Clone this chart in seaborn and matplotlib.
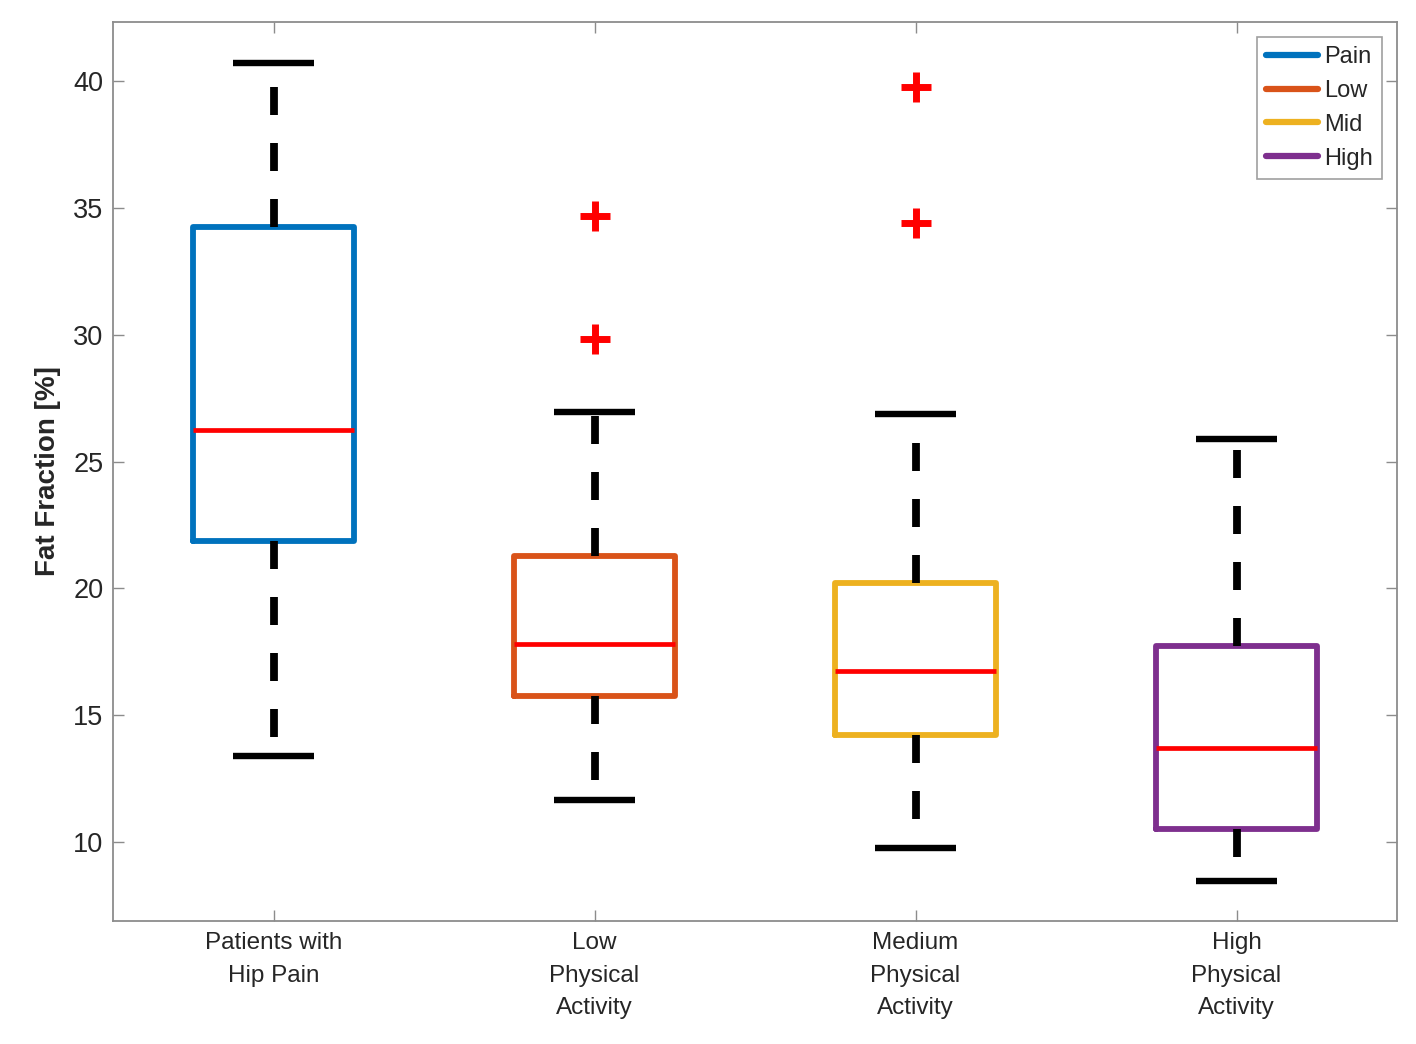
import matplotlib
matplotlib.use("Agg")
import matplotlib.pyplot as plt
from matplotlib import font_manager as fm
from matplotlib.lines import Line2D
import seaborn as sns
import pandas as pd

# ---- data ----
categories = ["Patients with\nHip Pain", "Low\nPhysical\nActivity",
              "Medium\nPhysical\nActivity", "High\nPhysical\nActivity"]
legend_labels = ["Pain", "Low", "Mid", "High"]
whisker_low = [13.4, 11.66, 9.77, 8.47]
q1_values = [21.87, 15.76, 14.22, 10.52]
medians = [26.24, 17.81, 16.74, 13.71]
q3_values = [34.25, 21.28, 20.21, 17.73]
whisker_high = [40.71, 26.95, 26.87, 25.89]
outlier_group = [2, 2, 3, 3]
outlier_values = [34.68, 29.83, 39.76, 34.40]
box_colors = ["#0072BD", "#D95319", "#EDB120", "#7E2F8E"]
yticks = [10, 15, 20, 25, 30, 35, 40]

sns.set_style("white")
fm.findfont("Liberation Sans", fallback_to_default=False)
plt.rcParams["font.family"] = ["Liberation Sans", "DejaVu Sans"]

fig = plt.figure(figsize=(14.16, 10.44), dpi=100)
ax = fig.add_axes([113 / 1416, 1 - 921 / 1044, (1397 - 113) / 1416, (921 - 22) / 1044])

positions = list(range(1, len(categories) + 1))
for i, pos in enumerate(positions):
    stats = [dict(med=medians[i], q1=q1_values[i], q3=q3_values[i],
                  whislo=whisker_low[i], whishi=whisker_high[i], fliers=[])]
    ax.bxp(stats, positions=[pos], widths=0.5, capwidths=0.25,
           showfliers=False,
           boxprops=dict(color=box_colors[i], linewidth=4.2),
           medianprops=dict(color="#FF0000", linewidth=3.4, solid_capstyle="butt"),
           whiskerprops=dict(color="black", linewidth=5.6, linestyle=(0, (3.6, 3.6))),
           capprops=dict(color="black", linewidth=4.6, solid_capstyle="butt"))

out_df = pd.DataFrame({"x": outlier_group, "y": outlier_values})
sns.scatterplot(data=out_df, x="x", y="y", ax=ax, marker="+", s=480,
                linewidth=5.0, color="#FF0000", zorder=5, legend=False)

ax.set_xlim(0.5, 4.5)
ax.set_ylim(6.89, 42.33)
ax.set_xticks(positions)
ax.set_xticklabels(categories, fontsize=17.5, color="#262626", linespacing=1.62)
ax.set_yticks(yticks)
ax.set_yticklabels([str(t) for t in yticks], fontsize=19.5, color="#262626")
ax.set_xlabel("")
ax.set_ylabel("Fat Fraction [%]", fontsize=20, fontweight="bold", color="#262626", labelpad=9)

ax.tick_params(axis="both", direction="in", length=8, width=1.0, color="#8c8c8c",
               top=True, right=True, left=True, bottom=True)
ax.tick_params(axis="y", pad=7)
ax.tick_params(axis="x", pad=8)
for sp in ax.spines.values():
    sp.set_visible(True)
    sp.set_color("#8c8c8c")
    sp.set_linewidth(1.3)

handles = [Line2D([0], [0], color=c, linewidth=4.5) for c in box_colors]
leg = ax.legend(handles, legend_labels, loc="upper right", fontsize=17,
                handlelength=2.2, handletextpad=0.25, labelspacing=0.5,
                borderpad=0.4, borderaxespad=0.62, fancybox=False, framealpha=1)
leg.get_frame().set_edgecolor("#a0a0a0")
leg.get_frame().set_linewidth(1.2)
for t in leg.get_texts():
    t.set_color("#262626")

fig.savefig("out.png", dpi=100, facecolor="white")
